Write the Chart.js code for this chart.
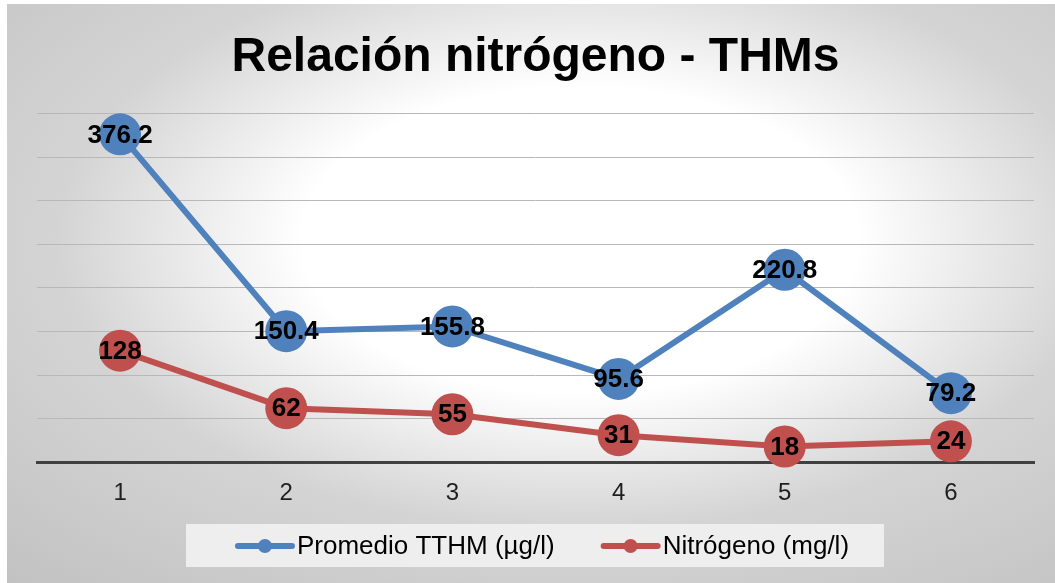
<!DOCTYPE html>
<html>
<head>
<meta charset="utf-8">
<script src="https://cdn.jsdelivr.net/npm/chart.js@4/dist/chart.umd.min.js"></script>
<style>
    html, body { margin: 0; padding: 0; background: #fff; }
    #wrap { width: 1055px; height: 583px; }
</style>
</head>
<body>
<div id="wrap"><canvas id="chart" width="1055" height="583"></canvas></div>
<script>
'use strict';

// ---- data ----
const categories = ['1', '2', '3', '4', '5', '6'];
const tthm       = [376.2, 150.4, 155.8, 95.6, 220.8, 79.2];
const nitrogeno  = [128, 62, 55, 31, 18, 24];
const seriesNames = ['Promedio TTHM (µg/l)', 'Nitrógeno (mg/l)'];
const yMin = 0, yMax = 400, yStep = 50;

const FONT = "'Liberation Sans', Arial, sans-serif";
const BLUE = '#4f81bd';
const RED  = '#c0504d';

// Radial grey backdrop like the office chart area
const backdrop = {
    id: 'backdrop',
    beforeDraw(chart) {
        const { ctx, width, height } = chart;
        ctx.save();
        ctx.fillStyle = '#fff';
        ctx.fillRect(0, 0, width, height);
        const cx = 580, cy = 240, rx = 560, ry = 310;
        const k = ry / rx;
        ctx.translate(cx, cy);
        ctx.scale(1, k);
        const g = ctx.createRadialGradient(0, 0, 0, 0, 0, rx * 1.5);
        g.addColorStop(0, '#ffffff');
        g.addColorStop(0.33, '#ffffff');
        g.addColorStop(0.62, '#d4d4d4');
        g.addColorStop(1, '#c2c2c2');
        ctx.fillStyle = g;
        ctx.fillRect(7 - cx, (4 - cy) / k, width - 7, (height - 4) / k);
        ctx.restore();
    }
};

// Value labels centred on each marker
const valueLabels = {
    id: 'valueLabels',
    afterDatasetsDraw(chart) {
        const { ctx } = chart;
        ctx.save();
        ctx.font = `bold 26px ${FONT}`;
        ctx.fillStyle = '#000';
        ctx.textAlign = 'center';
        ctx.textBaseline = 'middle';
        chart.data.datasets.forEach((ds, i) => {
            chart.getDatasetMeta(i).data.forEach((pt, j) => {
                ctx.fillText(String(ds.data[j]), pt.x, pt.y + 1);
            });
        });
        ctx.restore();
    }
};

// Legend in a pale box under the axis
const boxLegend = {
    id: 'boxLegend',
    afterDraw(chart) {
        const { ctx } = chart;
        const markW = 60, gap = 2, itemGap = 46, cy = 546;
        ctx.save();
        ctx.font = `26px ${FONT}`;
        const items = chart.data.datasets.map(ds => ({
            label: ds.label, color: ds.borderColor,
            w: markW + gap + ctx.measureText(ds.label).width
        }));
        const total = items.reduce((s, it) => s + it.w, 0) + itemGap * (items.length - 1);
        let x = 542 - total / 2;
        ctx.fillStyle = '#eeeeee';
        ctx.fillRect(x - 49, 524, total + 84, 43);
        items.forEach(it => {
            ctx.strokeStyle = it.color;
            ctx.lineWidth = 6;
            ctx.lineCap = 'round';
            ctx.beginPath();
            ctx.moveTo(x + 3, cy);
            ctx.lineTo(x + markW - 3, cy);
            ctx.stroke();
            ctx.fillStyle = it.color;
            ctx.beginPath();
            ctx.arc(x + markW / 2, cy, 7, 0, Math.PI * 2);
            ctx.fill();
            ctx.fillStyle = '#000';
            ctx.textAlign = 'left';
            ctx.textBaseline = 'middle';
            ctx.fillText(it.label, x + markW + gap, cy + 1);
            x += it.w + itemGap;
        });
        ctx.restore();
    }
};

const mkSeries = (label, data, color) => ({
    label, data,
    borderColor: color, backgroundColor: color,
    borderWidth: 6, tension: 0,
    pointRadius: 21, pointHoverRadius: 21,
    pointBackgroundColor: color, pointBorderWidth: 0,
    clip: false,
});

new Chart(document.getElementById('chart'), {
    type: 'line',
    data: {
        labels: categories,
        datasets: [
            mkSeries(seriesNames[0], tthm, BLUE),
            mkSeries(seriesNames[1], nitrogeno, RED),
        ]
    },
    options: {
        responsive: false,
        animation: false,
        events: [],
        layout: { padding: { left: 37, right: 21, top: 0, bottom: 58 } },
        plugins: {
            legend: { display: false },
            tooltip: { enabled: false },
            title: {
                display: true,
                text: 'Relación nitrógeno - THMs',
                color: '#000',
                font: { family: FONT, size: 48, weight: 'bold' },
                padding: { top: 29, bottom: 27 }
            }
        },
        scales: {
            x: {
                offset: true,
                grid: { display: false, drawTicks: false },
                border: { display: true, color: '#404040', width: 3 },
                ticks: { color: '#1f1f1f', padding: 17, font: { family: FONT, size: 24 } }
            },
            y: {
                min: yMin, max: yMax,
                ticks: { display: false, stepSize: yStep },
                grid: { color: '#b8b8b8', lineWidth: 1, drawTicks: false },
                border: { display: false }
            }
        }
    },
    plugins: [backdrop, valueLabels, boxLegend]
});
</script>
</body>
</html>
